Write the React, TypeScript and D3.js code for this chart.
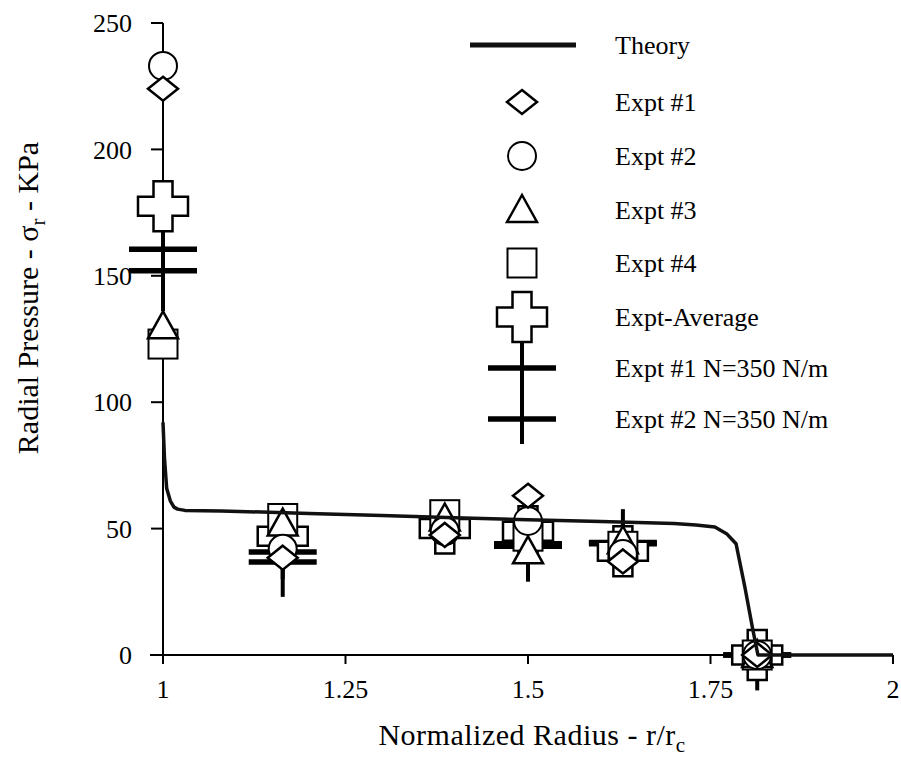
import React from "react";
import * as d3 from "d3";

// ---------- data ----------
const theoryR = [1.0, 1.002, 1.005, 1.01, 1.015, 1.02, 1.03, 1.08, 1.2, 1.3, 1.4, 1.5, 1.6, 1.7, 1.73, 1.756, 1.772, 1.785, 1.797, 1.808, 1.815, 1.9, 2.0];
const theoryP = [92, 78, 66, 61, 58.5, 57.7, 57.2, 57, 56, 55.2, 54.3, 53.5, 52.8, 52, 51.4, 50.6, 48, 44, 27, 10, 0, 0, 0];

const exptR = [1.0, 1.164, 1.386, 1.5, 1.63, 1.814];
const expt1 = [224, 38.5, 47.5, 63, 37, 0];
const expt2 = [233, 42, 49, 53, 40, 0];
const expt3 = [130, 52, 54, 41, 45, 0];
const expt4 = [123, 54, 55.5, 47, 43, 0];
const exptAvg = [177.5, 47, 50, 49, 41, 0];

const nR = [1.0, 1.164, 1.5, 1.63, 1.814];
const n1 = [160.5, 40.7, 44, 44.5, 0];
const n1Lo = [150, 30, 34, 35, -8];
const n1Hi = [168, 50, 50, 57.7, 8];
const n2 = [152, 36.8, 43, 44, 0];
const n2Lo = [136, 23, 29, 33, -14];
const n2Hi = [160, 45, 47, 52, 6];

const xTicks = [1, 1.25, 1.5, 1.75, 2];
const xTickLabels = ["1", "1.25", "1.5", "1.75", "2"];
const yTicks = [0, 50, 100, 150, 200, 250];

const legendLabels = [
  "Theory",
  "Expt #1",
  "Expt #2",
  "Expt #3",
  "Expt #4",
  "Expt-Average",
  "Expt #1 N=350 N/m",
  "Expt #2 N=350 N/m",
];

// ---------- layout ----------
const W = 901;
const H = 767;
const x = d3.scaleLinear().domain([1, 2]).range([163, 893]);
const y = d3.scaleLinear().domain([0, 250]).range([655, 23]);
const FONT = "Liberation Serif, Times New Roman, Times, serif";
const FS_LEG = 26;
const FS_TICK = 26;
const FS_TITLE = 30;

const plusPath = (s: number, a: number) =>
  `M${-a},${-s}H${a}V${-a}H${s}V${a}H${a}V${s}H${-a}V${a}H${-s}V${-a}H${-a}Z`;

const Diamond = ({ cx, cy }: { cx: number; cy: number }) => (
  <path d={`M${cx},${cy - 12}L${cx + 15},${cy}L${cx},${cy + 12}L${cx - 15},${cy}Z`} fill="#fff" stroke="#000" strokeWidth={2.5} />
);
const Circle = ({ cx, cy }: { cx: number; cy: number }) => (
  <circle cx={cx} cy={cy} r={14} fill="#fff" stroke="#000" strokeWidth={2} />
);
const Triangle = ({ cx, cy }: { cx: number; cy: number }) => (
  <path d={`M${cx},${cy - 15}L${cx + 15},${cy + 12}L${cx - 15},${cy + 12}Z`} fill="#fff" stroke="#000" strokeWidth={2.5} />
);
const Square = ({ cx, cy }: { cx: number; cy: number }) => (
  <rect x={cx - 14.5} y={cy - 14.5} width={29} height={29} fill="#fff" stroke="#000" strokeWidth={2} />
);
const Plus = ({ cx, cy }: { cx: number; cy: number }) => (
  <path transform={`translate(${cx},${cy})`} d={plusPath(25, 9.5)} fill="#fff" stroke="#000" strokeWidth={2.5} />
);
const Bar = ({ cx, cy, top, bottom }: { cx: number; cy: number; top: number; bottom: number }) => (
  <g>
    <line x1={cx} x2={cx} y1={top} y2={bottom} stroke="#000" strokeWidth={4} />
    <line x1={cx - 34} x2={cx + 34} y1={cy} y2={cy} stroke="#000" strokeWidth={5.5} />
  </g>
);

export default function App() {
  const line = d3
    .line<number>()
    .x((_, i) => x(theoryR[i]))
    .y((d) => y(d));
  const legX = 522;
  const legTextX = 615;
  const legRows = [45, 102, 156, 210, 263, 317, 368, 419];

  return (
    <svg width={W} height={H} style={{ position: "absolute", left: 0, top: 0, background: "#fff" }}>
      <rect width={W} height={H} fill="#fff" />
      <g fontFamily={FONT} fill="#000">
        {/* axes */}
        <line x1={x(1)} x2={x(1)} y1={y(250)} y2={y(0)} stroke="#000" strokeWidth={2} />
        <line x1={x(1) - 13} x2={x(2)} y1={y(0)} y2={y(0)} stroke="#000" strokeWidth={2} />
        {yTicks.map((t) => (
          <g key={t}>
            <line x1={x(1) - 12} x2={x(1)} y1={y(t)} y2={y(t)} stroke="#000" strokeWidth={2} />
            <text x={x(1) - 31} y={y(t)} dy="0.35em" textAnchor="end" fontSize={FS_TICK}>
              {t}
            </text>
          </g>
        ))}
        {xTicks.map((t, i) => (
          <g key={t}>
            <line x1={x(t)} x2={x(t)} y1={y(0)} y2={y(0) + 9} stroke="#000" strokeWidth={2} />
            <text x={x(t)} y={y(0) + 43} textAnchor="middle" fontSize={FS_TICK}>
              {xTickLabels[i]}
            </text>
          </g>
        ))}
        <text x={532} y={745} textAnchor="middle" fontSize={FS_TITLE} letterSpacing={0.5}>
          Normalized Radius - r/r<tspan fontSize={21} dy={7}>c</tspan>
        </text>
        <text transform={`translate(38,298) rotate(-90)`} textAnchor="middle" fontSize={FS_TITLE}>
          Radial Pressure - σ<tspan fontSize={21} dy={7}>r</tspan>
          <tspan dy={-7}> - KPa</tspan>
        </text>

        {/* N=350 series */}
        {nR.map((r, i) => (
          <Bar key={"n1" + i} cx={x(r)} cy={y(n1[i])} top={y(n1Hi[i])} bottom={y(n1Lo[i])} />
        ))}
        {nR.map((r, i) => (
          <Bar key={"n2" + i} cx={x(r)} cy={y(n2[i])} top={y(n2Hi[i])} bottom={y(n2Lo[i])} />
        ))}
        {exptR.map((r, i) => (
          <Plus key={"a" + i} cx={x(r)} cy={y(exptAvg[i])} />
        ))}
        {exptR.map((r, i) => (
          <Square key={"s" + i} cx={x(r)} cy={y(expt4[i])} />
        ))}
        {exptR.map((r, i) => (
          <Triangle key={"t" + i} cx={x(r)} cy={y(expt3[i])} />
        ))}
        {exptR.map((r, i) => (
          <Circle key={"c" + i} cx={x(r)} cy={y(expt2[i])} />
        ))}
        {exptR.map((r, i) => (
          <Diamond key={"d" + i} cx={x(r)} cy={y(expt1[i])} />
        ))}

        {/* theory */}
        <path d={line(theoryP) || ""} fill="none" stroke="#111" strokeWidth={3.5} strokeLinejoin="round" />

        {/* legend */}
        <g>
          <line x1={470} x2={576} y1={legRows[0]} y2={legRows[0]} stroke="#111" strokeWidth={5} />
          <Diamond cx={legX} cy={legRows[1]} />
          <Circle cx={legX} cy={legRows[2]} />
          <Triangle cx={legX} cy={legRows[3]} />
          <Square cx={legX} cy={legRows[4]} />
          <Bar cx={legX} cy={legRows[6]} top={legRows[6] - 26} bottom={legRows[6] + 25} />
          <Bar cx={legX} cy={legRows[7]} top={legRows[7] - 26} bottom={legRows[7] + 25} />
          <Plus cx={legX} cy={legRows[5]} />
          {legendLabels.map((l, i) => (
            <text key={l} x={legTextX} y={legRows[i]} dy="0.35em" fontSize={FS_LEG}>
              {l}
            </text>
          ))}
        </g>
      </g>
    </svg>
  );
}
